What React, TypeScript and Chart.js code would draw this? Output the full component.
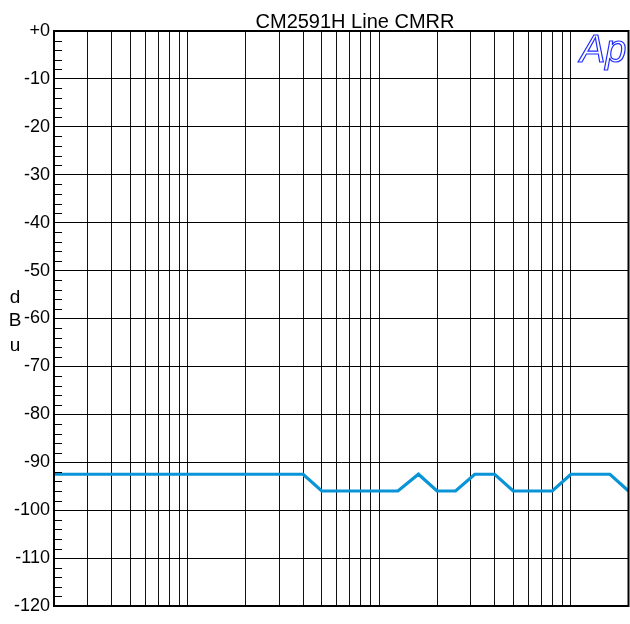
import React, { useEffect, useRef } from 'react';
import { Chart, registerables } from 'chart.js';

Chart.register(...registerables);

const TITLE = 'CM2591H Line CMRR';
const Y_TITLE_LETTERS = ['d', 'B', 'u'];
const freqs = [20, 25, 31.5, 40, 50, 63, 80, 100, 125, 160, 200, 250, 315, 400, 500, 630, 800, 1000, 1250, 1600, 2000, 2500, 3150, 4000, 5000, 6300, 8000, 10000, 12500, 16000, 20000];
const cmrr = [-92.5, -92.5, -92.5, -92.5, -92.5, -92.5, -92.5, -92.5, -92.5, -92.5, -92.5, -92.5, -92.5, -92.5, -96, -96, -96, -96, -96, -92.5, -96, -96, -92.5, -92.5, -96, -96, -96, -92.5, -92.5, -92.5, -96];
const xGridValues = [20, 30, 40, 50, 60, 70, 80, 90, 100, 200, 300, 400, 500, 600, 700, 800, 900, 1000, 2000, 3000, 4000, 5000, 6000, 7000, 8000, 9000, 10000, 20000];
const yTickValues = [-120, -110, -100, -90, -80, -70, -60, -50, -40, -30, -20, -10, 0];
const yMinorValues = [-118, -116, -114, -112, -108, -106, -104, -102, -98, -96, -94, -92, -88, -86, -84, -82, -78, -76, -74, -72, -68, -66, -64, -62, -58, -56, -54, -52, -48, -46, -44, -42, -38, -36, -34, -32, -28, -26, -24, -22, -18, -16, -14, -12, -8, -6, -4, -2];

const FONT = '"Liberation Sans", Arial, sans-serif';

const decorPlugin = {
  id: 'decor',
  afterDraw(chart: any) {
    const { ctx, chartArea } = chart;
    const y = chart.scales.y;
    ctx.save();
    // minor ticks
    ctx.strokeStyle = '#000';
    ctx.lineWidth = 1;
    ctx.beginPath();
    for (const v of yMinorValues) {
      const py = Math.round(y.getPixelForValue(v)) + 0.5;
      ctx.moveTo(chartArea.left, py);
      ctx.lineTo(chartArea.left + 8, py);
    }
    ctx.stroke();
    // frame
    ctx.lineWidth = 2;
    ctx.strokeRect(chartArea.left, chartArea.top, chartArea.right - chartArea.left, chartArea.bottom - chartArea.top);
    // title
    ctx.fillStyle = '#000';
    ctx.font = `20px ${FONT}`;
    ctx.textAlign = 'center';
    ctx.textBaseline = 'alphabetic';
    ctx.fillText(TITLE, 355, 28);
    // y title letters
    ctx.font = `19px ${FONT}`;
    const baselines = [y.getPixelForValue(-55) + 8, y.getPixelForValue(-60) + 7, y.getPixelForValue(-65) + 9];
    Y_TITLE_LETTERS.forEach((l, i) => ctx.fillText(l, 15, baselines[i]));
    // Ap logo
    ctx.font = `italic 38px ${FONT}`;
    ctx.textAlign = 'left';
    ctx.strokeStyle = '#1f2bff';
    ctx.lineWidth = 1.2;
    ctx.strokeText('Ap', 580, 62);
    ctx.restore();
  },
};

export default function App() {
  const ref = useRef<HTMLCanvasElement>(null);
  useEffect(() => {
    if (!ref.current) return;
    const chart = new Chart(ref.current, {
      type: 'line',
      data: {
        datasets: [
          {
            data: freqs.map((f, i) => ({ x: f, y: cmrr[i] })),
            borderColor: '#0a94d8',
            borderWidth: 3.2,
            pointRadius: 0,
            tension: 0,
            fill: false,
          },
        ],
      },
      options: {
        responsive: false,
        animation: false,
        devicePixelRatio: 1,
        layout: { padding: { top: 31, right: 1.5, bottom: 18, left: 0 } },
        plugins: { legend: { display: false }, title: { display: false }, tooltip: { enabled: false } },
        scales: {
          x: {
            type: 'logarithmic',
            min: 20,
            max: 20000,
            afterBuildTicks: (s: any) => {
              s.ticks = xGridValues.map((v) => ({ value: v }));
            },
            afterFit: (s: any) => {
              s.height = 0;
            },
            ticks: { display: false },
            grid: { color: '#111', lineWidth: 1, drawTicks: false },
            border: { display: false },
          },
          y: {
            type: 'linear',
            min: -120,
            max: 0,
            afterBuildTicks: (s: any) => {
              s.ticks = yTickValues.map((v) => ({ value: v }));
            },
            afterFit: (s: any) => {
              s.width = 54;
            },
            ticks: {
              color: '#000',
              font: { family: FONT, size: 18 },
              padding: 4,
              callback: (v: any) => (v === 0 ? '+0' : String(v)),
            },
            grid: { color: '#000', lineWidth: 1, drawTicks: false },
            border: { display: false },
          },
        },
      },
      plugins: [decorPlugin],
    });
    return () => chart.destroy();
  }, []);
  return (
    <div style={{ position: 'absolute', left: 0, top: 0, width: 630, height: 624, background: '#fff' }}>
      <canvas ref={ref} width={630} height={624} style={{ width: 630, height: 624 }} />
    </div>
  );
}
